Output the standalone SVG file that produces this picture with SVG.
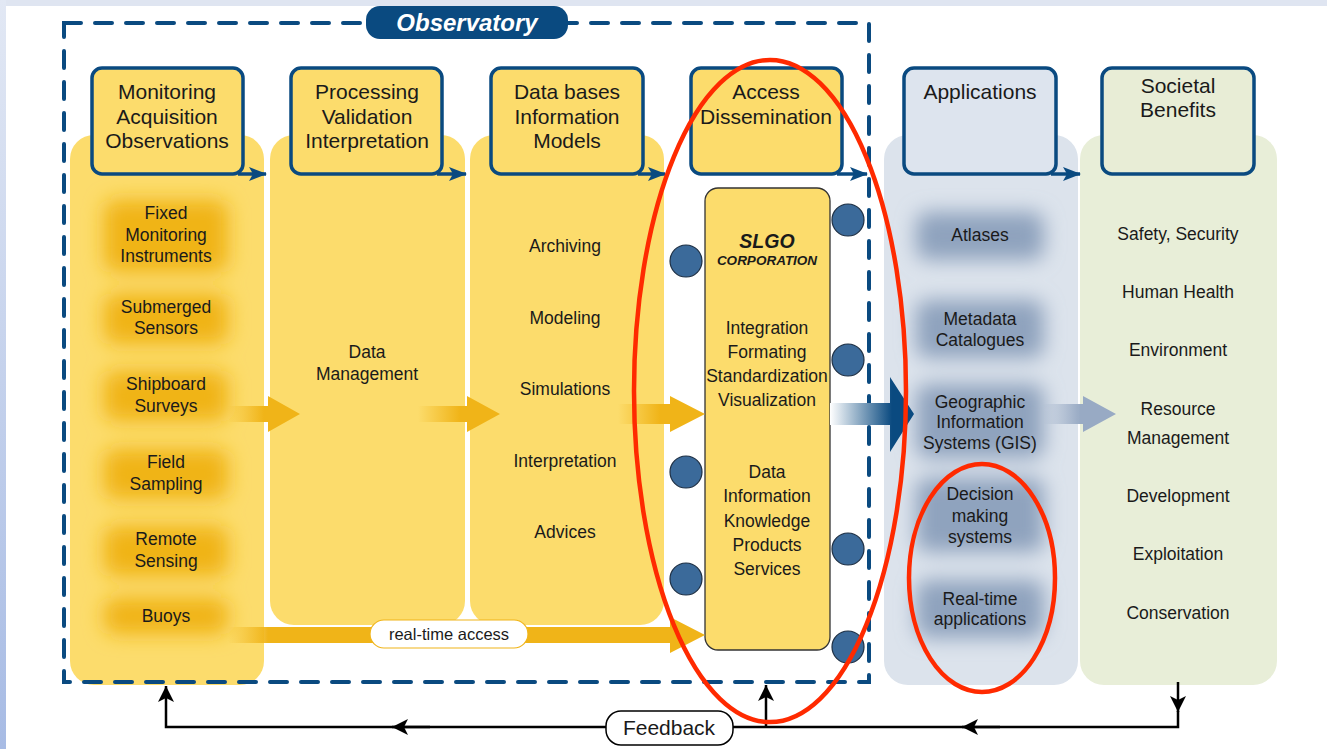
<svg xmlns="http://www.w3.org/2000/svg" width="1327" height="749" viewBox="0 0 1327 749">
<defs>
<style>
text{font-family:"Liberation Sans",Arial,sans-serif;fill:#1a1a1a;text-anchor:middle}
.hd{font-size:21px}
.it{font-size:17.5px}
.hbox{stroke:#0a4a80;stroke-width:3.5}
.hline{stroke:#0a4a80;stroke-width:3.5;fill:none}
.fb{stroke:#000;stroke-width:2.5;fill:none}
.dot{fill:#3b6a9a;stroke:#1d2f44;stroke-width:1.2}
.red{fill:none;stroke:#ff2a00;stroke-width:4.5}
</style>
<linearGradient id="leftEdge" x1="0" y1="0" x2="0" y2="1"><stop offset="0" stop-color="#e2e8f4"/><stop offset="1" stop-color="#a7bbe4"/></linearGradient>
<linearGradient id="yA1" gradientUnits="userSpaceOnUse" x1="228" y1="0" x2="264" y2="0"><stop offset="0" stop-color="#f0b418" stop-opacity="0"/><stop offset="1" stop-color="#f0b418"/></linearGradient>
<linearGradient id="yA2" gradientUnits="userSpaceOnUse" x1="418" y1="0" x2="460" y2="0"><stop offset="0" stop-color="#f0b418" stop-opacity="0"/><stop offset="1" stop-color="#f0b418"/></linearGradient>
<linearGradient id="yA3" gradientUnits="userSpaceOnUse" x1="618" y1="0" x2="660" y2="0"><stop offset="0" stop-color="#f0b418" stop-opacity="0"/><stop offset="1" stop-color="#f0b418"/></linearGradient>
<linearGradient id="yRT" gradientUnits="userSpaceOnUse" x1="228" y1="0" x2="268" y2="0"><stop offset="0" stop-color="#f0b418" stop-opacity="0"/><stop offset="1" stop-color="#f0b418"/></linearGradient>
<linearGradient id="bArrow" gradientUnits="userSpaceOnUse" x1="830" y1="0" x2="892" y2="0"><stop offset="0" stop-color="#ffffff"/><stop offset="1" stop-color="#0a4a80"/></linearGradient>
<linearGradient id="gArrow" gradientUnits="userSpaceOnUse" x1="1043" y1="0" x2="1080" y2="0"><stop offset="0" stop-color="#98aac4" stop-opacity="0"/><stop offset="1" stop-color="#98aac4"/></linearGradient>
<filter id="blur" x="-40%" y="-60%" width="180%" height="220%"><feGaussianBlur stdDeviation="10"/></filter>
<marker id="bh" markerWidth="18" markerHeight="14" refX="17" refY="7" orient="auto" markerUnits="userSpaceOnUse"><path d="M0,0 L18,7 L0,14 L4,7 z" fill="#0a4a80"/></marker>
<marker id="kh" markerWidth="16" markerHeight="16" refX="16" refY="8" orient="auto" markerUnits="userSpaceOnUse"><path d="M0,0 L16,8 L0,16 L4,8 z" fill="#000"/></marker>
</defs>
<rect x="0" y="0" width="1327" height="749" fill="#ffffff"/>
<rect x="0" y="0" width="1327" height="6" fill="#dfe5f1"/>
<rect x="0" y="0" width="6" height="749" fill="url(#leftEdge)"/>

<!-- column backgrounds -->
<g id="col1"><rect x="70" y="135" width="194" height="550" rx="24" fill="#fcdc6c"/>
<g filter="url(#blur)" fill="#f0b418"><rect x="104" y="200" width="124" height="72" rx="12"/><rect x="104" y="294" width="124" height="50" rx="12"/><rect x="104" y="371" width="124" height="50" rx="12"/><rect x="104" y="449" width="124" height="50" rx="12"/><rect x="104" y="526" width="124" height="50" rx="12"/><rect x="104" y="598" width="124" height="36" rx="12"/></g></g>
<g id="col2"><rect x="270" y="135" width="195" height="490" rx="24" fill="#fcdc6c"/></g>
<g id="col3"><rect x="470" y="135" width="194" height="490" rx="24" fill="#fcdc6c"/></g>
<g id="colApp"><rect x="884" y="135" width="194" height="550" rx="24" fill="#dce3ec"/>
<g filter="url(#blur)" fill="#8fa3be"><rect x="916" y="212" width="128" height="48" rx="12"/><rect x="916" y="300" width="128" height="58" rx="12"/><rect x="916" y="384" width="128" height="74" rx="12"/><rect x="916" y="478" width="128" height="74" rx="12"/><rect x="916" y="580" width="128" height="58" rx="12"/></g></g>
<g id="colSoc"><rect x="1080" y="135" width="197" height="550" rx="24" fill="#e8eed8"/></g>

<!-- observatory frame -->
<g id="observatory">
<rect x="64" y="23" width="805" height="659" fill="none" stroke="#0a4a80" stroke-width="4" stroke-dasharray="17 14" stroke-linecap="round"/>
<rect x="366" y="6" width="202" height="33" rx="14" fill="#0a4a80"/>
<text x="467" y="31" style="font-size:24px;font-weight:bold;font-style:italic;fill:#ffffff">Observatory</text>
</g>

<!-- header boxes -->
<g id="h1"><rect class="hbox" x="92" y="68" width="151" height="106" rx="10" fill="#fcdc6c"/>
<text class="hd" x="167" y="99">Monitoring</text><text class="hd" x="167" y="124">Acquisition</text><text class="hd" x="167" y="148">Observations</text></g>
<g id="h2"><rect class="hbox" x="291" y="68" width="151" height="106" rx="10" fill="#fcdc6c"/>
<text class="hd" x="367" y="99">Processing</text><text class="hd" x="367" y="124">Validation</text><text class="hd" x="367" y="148">Interpretation</text></g>
<g id="h3"><rect class="hbox" x="491" y="68" width="152" height="106" rx="10" fill="#fcdc6c"/>
<text class="hd" x="567" y="99">Data bases</text><text class="hd" x="567" y="124">Information</text><text class="hd" x="567" y="148">Models</text></g>
<g id="h4"><rect class="hbox" x="691" y="68" width="151" height="106" rx="10" fill="#fcdc6c"/>
<text class="hd" x="766" y="99">Access</text><text class="hd" x="766" y="124">Dissemination</text></g>
<g id="h5"><rect class="hbox" x="904" y="68" width="152" height="106" rx="10" fill="#dde4ee"/>
<text class="hd" x="980" y="99">Applications</text></g>
<g id="h6"><rect class="hbox" x="1102" y="68" width="152" height="106" rx="10" fill="#e8edd6"/>
<text class="hd" x="1178" y="93">Societal</text><text class="hd" x="1178" y="117">Benefits</text></g>

<!-- column texts -->
<g id="col1text">
<text class="it" x="166" y="219">Fixed</text><text class="it" x="166" y="241">Monitoring</text><text class="it" x="166" y="262">Instruments</text>
<text class="it" x="166" y="313">Submerged</text><text class="it" x="166" y="334">Sensors</text>
<text class="it" x="166" y="390">Shipboard</text><text class="it" x="166" y="412">Surveys</text>
<text class="it" x="166" y="468">Field</text><text class="it" x="166" y="490">Sampling</text>
<text class="it" x="166" y="545">Remote</text><text class="it" x="166" y="567">Sensing</text>
<text class="it" x="166" y="622">Buoys</text>
</g>
<g id="col2text"><text class="it" x="367" y="358">Data</text><text class="it" x="367" y="380">Management</text></g>
<g id="col3text">
<text class="it" x="565" y="252">Archiving</text><text class="it" x="565" y="324">Modeling</text><text class="it" x="565" y="395">Simulations</text><text class="it" x="565" y="467">Interpretation</text><text class="it" x="565" y="538">Advices</text>
</g>
<g id="appText">
<text class="it" x="980" y="241">Atlases</text>
<text class="it" x="980" y="325">Metadata</text><text class="it" x="980" y="346">Catalogues</text>
<text class="it" x="980" y="408">Geographic</text><text class="it" x="980" y="428">Information</text><text class="it" x="980" y="449">Systems (GIS)</text>
<text class="it" x="980" y="500">Decision</text><text class="it" x="980" y="522">making</text><text class="it" x="980" y="543">systems</text>
<text class="it" x="980" y="605">Real-time</text><text class="it" x="980" y="625">applications</text>
</g>
<g id="socText">
<text class="it" x="1178" y="240">Safety, Security</text><text class="it" x="1178" y="298">Human Health</text><text class="it" x="1178" y="356">Environment</text>
<text class="it" x="1178" y="415">Resource</text><text class="it" x="1178" y="444">Management</text><text class="it" x="1178" y="502">Development</text>
<text class="it" x="1178" y="560">Exploitation</text><text class="it" x="1178" y="619">Conservation</text>
</g>

<!-- SLGO box -->
<g id="slgo">
<rect x="705" y="188" width="125" height="462" rx="13" fill="#fcdc6c" stroke="#333" stroke-width="1.3"/>
<text x="767" y="248" style="font-size:19.5px;font-style:italic;font-weight:bold">SLGO</text>
<text x="767" y="265" style="font-size:13.5px;font-style:italic;font-weight:bold">CORPORATION</text>
<text class="it" x="767" y="334">Integration</text><text class="it" x="767" y="358">Formating</text><text class="it" x="767" y="382">Standardization</text><text class="it" x="767" y="406">Visualization</text>
<text class="it" x="767" y="478">Data</text><text class="it" x="767" y="502">Information</text><text class="it" x="767" y="527">Knowledge</text><text class="it" x="767" y="551">Products</text><text class="it" x="767" y="575">Services</text>
</g>
<g id="dots">
<circle class="dot" cx="686" cy="261" r="16"/><circle class="dot" cx="686" cy="472" r="16"/><circle class="dot" cx="686" cy="579" r="16"/>
<circle class="dot" cx="848" cy="220" r="16"/><circle class="dot" cx="848" cy="360" r="16"/><circle class="dot" cx="848" cy="549" r="16"/><circle class="dot" cx="848" cy="647" r="16"/>
</g>

<!-- connectors -->
<g id="connectors">
<path class="hline" d="M238,174 L266,174" marker-end="url(#bh)"/>
<path class="hline" d="M437,174 L466,174" marker-end="url(#bh)"/>
<path class="hline" d="M638,174 L665,174" marker-end="url(#bh)"/>
<path class="hline" d="M837,174 L867,174" marker-end="url(#bh)"/>
<path class="hline" d="M1051,174 L1080,174" marker-end="url(#bh)"/>
<path d="M228,406 H268 V396 L300,414 L268,432 V422 H228 Z" fill="url(#yA1)"/>
<path d="M418,406 H467 V396 L500,414 L467,432 V422 H418 Z" fill="url(#yA2)"/>
<path d="M618,404 H670 V396 L705,414 L670,432 V424 H618 Z" fill="url(#yA3)"/>
<path d="M830,403 H890 V377 L914,414 L890,452 V425 H830 Z" fill="url(#bArrow)"/>
<path d="M1043,404 H1083 V396 L1116,414 L1083,432 V424 H1043 Z" fill="url(#gArrow)"/>
<path d="M228,627 H670 V617 L705,635 L670,653 V643 H228 Z" fill="url(#yRT)"/>
<rect x="370" y="620" width="158" height="28" rx="14" fill="#ffffff" stroke="#f0b418" stroke-width="1.2"/>
<text x="449" y="640" style="font-size:16.5px">real-time access</text>
<path class="fb" d="M1178,682 V712" marker-end="url(#kh)"/>
<path class="fb" d="M1178,711 V727 H166 V686" marker-end="url(#kh)"/>
<path class="fb" d="M1000,727 H962" marker-end="url(#kh)"/>
<path class="fb" d="M430,727 H392" marker-end="url(#kh)"/>
<path class="fb" d="M766,727 V685" marker-end="url(#kh)"/>
<rect x="606" y="711" width="127" height="34" rx="15" fill="#ffffff" stroke="#000" stroke-width="1.5"/>
<text x="669" y="735" style="font-size:21px">Feedback</text>
</g>

<!-- highlight ellipses -->
<g id="highlights">
<ellipse class="red" cx="770" cy="391" rx="136" ry="331"/>
<ellipse class="red" cx="982" cy="578" rx="73" ry="114"/>
</g>
</svg>
